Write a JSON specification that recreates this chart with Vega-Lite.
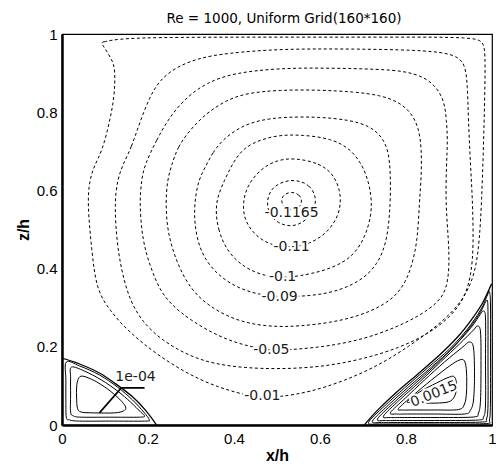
{
"$schema":"https://vega.github.io/schema/vega-lite/v6.json",
"width":430,"height":391,
"autosize":{"type":"none"},
"padding":{"left":62,"top":34,"right":4,"bottom":40},
"title":{"text":"Re = 1000, Uniform Grid(160*160)","font":"DejaVu Sans","fontSize":13.5,"fontWeight":"normal","color":"black","offset":2,"dx":7},
"config":{"view":{"stroke":"black","strokeWidth":1.2}},
"layer":[
{"data":{"values":[
{"c":"L1","x":0.534,"y":0.597},{"c":"L1","x":0.552,"y":0.590},{"c":"L1","x":0.559,"y":0.573},{"c":"L1","x":0.553,"y":0.556},{"c":"L1","x":0.534,"y":0.549},{"c":"L1","x":0.516,"y":0.556},{"c":"L1","x":0.509,"y":0.573},{"c":"L1","x":0.515,"y":0.590},
{"c":"L2","x":0.547,"y":0.627},{"c":"L2","x":0.576,"y":0.614},{"c":"L2","x":0.592,"y":0.583},{"c":"L2","x":0.587,"y":0.550},{"c":"L2","x":0.564,"y":0.519},{"c":"L2","x":0.534,"y":0.506},{"c":"L2","x":0.501,"y":0.516},{"c":"L2","x":0.480,"y":0.542},{"c":"L2","x":0.476,"y":0.575},{"c":"L2","x":0.487,"y":0.606},{"c":"L2","x":0.515,"y":0.624},
{"c":"L3","x":0.541,"y":0.683},{"c":"L3","x":0.599,"y":0.670},{"c":"L3","x":0.634,"y":0.639},{"c":"L3","x":0.650,"y":0.588},{"c":"L3","x":0.645,"y":0.537},{"c":"L3","x":0.617,"y":0.491},{"c":"L3","x":0.576,"y":0.463},{"c":"L3","x":0.534,"y":0.453},{"c":"L3","x":0.483,"y":0.460},{"c":"L3","x":0.448,"y":0.486},{"c":"L3","x":0.424,"y":0.524},{"c":"L3","x":0.420,"y":0.568},{"c":"L3","x":0.431,"y":0.614},{"c":"L3","x":0.464,"y":0.657},{"c":"L3","x":0.501,"y":0.678},
{"c":"L4","x":0.355,"y":0.568},{"c":"L4","x":0.362,"y":0.499},{"c":"L4","x":0.385,"y":0.442},{"c":"L4","x":0.424,"y":0.402},{"c":"L4","x":0.471,"y":0.381},{"c":"L4","x":0.513,"y":0.376},{"c":"L4","x":0.552,"y":0.381},{"c":"L4","x":0.610,"y":0.394},{"c":"L4","x":0.669,"y":0.422},{"c":"L4","x":0.703,"y":0.473},{"c":"L4","x":0.720,"y":0.537},{"c":"L4","x":0.720,"y":0.588},{"c":"L4","x":0.706,"y":0.652},{"c":"L4","x":0.673,"y":0.706},{"c":"L4","x":0.625,"y":0.733},{"c":"L4","x":0.560,"y":0.742},{"c":"L4","x":0.506,"y":0.742},{"c":"L4","x":0.459,"y":0.729},{"c":"L4","x":0.424,"y":0.709},{"c":"L4","x":0.401,"y":0.678},{"c":"L4","x":0.378,"y":0.627},
{"c":"L5","x":0.336,"y":0.665},{"c":"L5","x":0.350,"y":0.696},{"c":"L5","x":0.373,"y":0.729},{"c":"L5","x":0.413,"y":0.762},{"c":"L5","x":0.459,"y":0.780},{"c":"L5","x":0.517,"y":0.788},{"c":"L5","x":0.599,"y":0.788},{"c":"L5","x":0.669,"y":0.780},{"c":"L5","x":0.715,"y":0.765},{"c":"L5","x":0.745,"y":0.737},{"c":"L5","x":0.760,"y":0.698},{"c":"L5","x":0.764,"y":0.640},{"c":"L5","x":0.764,"y":0.568},{"c":"L5","x":0.757,"y":0.473},{"c":"L5","x":0.734,"y":0.409},{"c":"L5","x":0.692,"y":0.366},{"c":"L5","x":0.634,"y":0.340},{"c":"L5","x":0.576,"y":0.330},{"c":"L5","x":0.506,"y":0.327},{"c":"L5","x":0.448,"y":0.335},{"c":"L5","x":0.394,"y":0.358},{"c":"L5","x":0.350,"y":0.396},{"c":"L5","x":0.320,"y":0.448},{"c":"L5","x":0.308,"y":0.512},{"c":"L5","x":0.308,"y":0.568},{"c":"L5","x":0.317,"y":0.627},
{"c":"L6","x":0.255,"y":0.665},{"c":"L6","x":0.269,"y":0.711},{"c":"L6","x":0.297,"y":0.754},{"c":"L6","x":0.336,"y":0.798},{"c":"L6","x":0.383,"y":0.831},{"c":"L6","x":0.429,"y":0.849},{"c":"L6","x":0.506,"y":0.857},{"c":"L6","x":0.599,"y":0.857},{"c":"L6","x":0.680,"y":0.852},{"c":"L6","x":0.738,"y":0.844},{"c":"L6","x":0.785,"y":0.826},{"c":"L6","x":0.815,"y":0.795},{"c":"L6","x":0.831,"y":0.754},{"c":"L6","x":0.836,"y":0.703},{"c":"L6","x":0.836,"y":0.640},{"c":"L6","x":0.831,"y":0.568},{"c":"L6","x":0.827,"y":0.473},{"c":"L6","x":0.813,"y":0.402},{"c":"L6","x":0.790,"y":0.345},{"c":"L6","x":0.750,"y":0.307},{"c":"L6","x":0.692,"y":0.279},{"c":"L6","x":0.622,"y":0.261},{"c":"L6","x":0.552,"y":0.253},{"c":"L6","x":0.506,"y":0.251},{"c":"L6","x":0.448,"y":0.256},{"c":"L6","x":0.390,"y":0.274},{"c":"L6","x":0.338,"y":0.307},{"c":"L6","x":0.297,"y":0.350},{"c":"L6","x":0.266,"y":0.417},{"c":"L6","x":0.245,"y":0.494},{"c":"L6","x":0.241,"y":0.568},{"c":"L6","x":0.245,"y":0.627},
{"c":"L7","x":0.192,"y":0.665},{"c":"L7","x":0.220,"y":0.729},{"c":"L7","x":0.250,"y":0.788},{"c":"L7","x":0.290,"y":0.839},{"c":"L7","x":0.336,"y":0.875},{"c":"L7","x":0.397,"y":0.900},{"c":"L7","x":0.506,"y":0.913},{"c":"L7","x":0.622,"y":0.913},{"c":"L7","x":0.738,"y":0.910},{"c":"L7","x":0.797,"y":0.905},{"c":"L7","x":0.843,"y":0.890},{"c":"L7","x":0.873,"y":0.862},{"c":"L7","x":0.890,"y":0.824},{"c":"L7","x":0.894,"y":0.780},{"c":"L7","x":0.897,"y":0.729},{"c":"L7","x":0.894,"y":0.665},{"c":"L7","x":0.892,"y":0.568},{"c":"L7","x":0.899,"y":0.473},{"c":"L7","x":0.901,"y":0.402},{"c":"L7","x":0.894,"y":0.345},{"c":"L7","x":0.873,"y":0.312},{"c":"L7","x":0.831,"y":0.279},{"c":"L7","x":0.773,"y":0.248},{"c":"L7","x":0.703,"y":0.220},{"c":"L7","x":0.622,"y":0.202},{"c":"L7","x":0.552,"y":0.194},{"c":"L7","x":0.487,"y":0.190},{"c":"L7","x":0.429,"y":0.202},{"c":"L7","x":0.366,"y":0.225},{"c":"L7","x":0.297,"y":0.269},{"c":"L7","x":0.255,"y":0.307},{"c":"L7","x":0.227,"y":0.345},{"c":"L7","x":0.204,"y":0.409},{"c":"L7","x":0.187,"y":0.473},{"c":"L7","x":0.180,"y":0.568},{"c":"L7","x":0.185,"y":0.627},
{"c":"L8","x":0.141,"y":0.665},{"c":"L8","x":0.162,"y":0.711},{"c":"L8","x":0.180,"y":0.772},{"c":"L8","x":0.204,"y":0.839},{"c":"L8","x":0.227,"y":0.882},{"c":"L8","x":0.266,"y":0.916},{"c":"L8","x":0.320,"y":0.939},{"c":"L8","x":0.383,"y":0.951},{"c":"L8","x":0.506,"y":0.962},{"c":"L8","x":0.669,"y":0.962},{"c":"L8","x":0.831,"y":0.959},{"c":"L8","x":0.897,"y":0.951},{"c":"L8","x":0.924,"y":0.939},{"c":"L8","x":0.938,"y":0.918},{"c":"L8","x":0.943,"y":0.870},{"c":"L8","x":0.945,"y":0.780},{"c":"L8","x":0.950,"y":0.665},{"c":"L8","x":0.955,"y":0.568},{"c":"L8","x":0.957,"y":0.460},{"c":"L8","x":0.952,"y":0.384},{"c":"L8","x":0.936,"y":0.325},{"c":"L8","x":0.906,"y":0.279},{"c":"L8","x":0.855,"y":0.235},{"c":"L8","x":0.785,"y":0.197},{"c":"L8","x":0.692,"y":0.166},{"c":"L8","x":0.599,"y":0.148},{"c":"L8","x":0.506,"y":0.143},{"c":"L8","x":0.424,"y":0.146},{"c":"L8","x":0.355,"y":0.156},{"c":"L8","x":0.297,"y":0.176},{"c":"L8","x":0.234,"y":0.215},{"c":"L8","x":0.187,"y":0.263},{"c":"L8","x":0.157,"y":0.320},{"c":"L8","x":0.138,"y":0.396},{"c":"L8","x":0.127,"y":0.473},{"c":"L8","x":0.122,"y":0.568},{"c":"L8","x":0.129,"y":0.627},
{"c":"L9","x":0.091,"y":0.978},{"c":"L9","x":0.091,"y":0.978},{"c":"L9","x":0.134,"y":0.990},{"c":"L9","x":0.320,"y":0.992},{"c":"L9","x":0.552,"y":0.992},{"c":"L9","x":0.785,"y":0.992},{"c":"L9","x":0.959,"y":0.992},{"c":"L9","x":0.978,"y":0.980},{"c":"L9","x":0.985,"y":0.959},{"c":"L9","x":0.983,"y":0.831},{"c":"L9","x":0.980,"y":0.703},{"c":"L9","x":0.976,"y":0.575},{"c":"L9","x":0.971,"y":0.473},{"c":"L9","x":0.962,"y":0.396},{"c":"L9","x":0.943,"y":0.340},{"c":"L9","x":0.913,"y":0.294},{"c":"L9","x":0.866,"y":0.248},{"c":"L9","x":0.808,"y":0.202},{"c":"L9","x":0.738,"y":0.153},{"c":"L9","x":0.657,"y":0.113},{"c":"L9","x":0.576,"y":0.084},{"c":"L9","x":0.506,"y":0.072},{"c":"L9","x":0.466,"y":0.070},{"c":"L9","x":0.413,"y":0.079},{"c":"L9","x":0.320,"y":0.113},{"c":"L9","x":0.227,"y":0.174},{"c":"L9","x":0.150,"y":0.243},{"c":"L9","x":0.111,"y":0.294},{"c":"L9","x":0.080,"y":0.345},{"c":"L9","x":0.069,"y":0.448},{"c":"L9","x":0.059,"y":0.568},{"c":"L9","x":0.064,"y":0.627},{"c":"L9","x":0.076,"y":0.665},{"c":"L9","x":0.094,"y":0.703},{"c":"L9","x":0.110,"y":0.772},{"c":"L9","x":0.122,"y":0.839},{"c":"L9","x":0.124,"y":0.908},{"c":"L9","x":0.117,"y":0.934}
]},
"mark":{"type":"line","interpolate":"basis-closed","strokeWidth":1,"color":"black","strokeDash":[3,2.5],"clip":true},
"encoding":{
"x":{"field":"x","type":"quantitative","scale":{"domain":[0,1],"nice":false,"zero":false},
"axis":{"values":[0,0.2,0.4,0.6,0.8,1],"format":"~g","title":"x/h","grid":false,"ticks":false,"labelPadding":6,"labelFlush":false,"labelFont":"Liberation Sans","labelFontSize":15,"labelColor":"black","titleFont":"Liberation Sans","titleFontSize":16,"titleFontWeight":"bold","titleColor":"black","titlePadding":1,"domainColor":"black","domainWidth":2.5}},
"y":{"field":"y","type":"quantitative","scale":{"domain":[0,1],"nice":false,"zero":false},
"axis":{"values":[0,0.2,0.4,0.6,0.8,1],"format":"~g","title":"z/h","grid":false,"ticks":false,"labelPadding":5,"labelFlush":false,"labelFont":"Liberation Sans","labelFontSize":15,"labelColor":"black","titleFont":"Liberation Sans","titleFontSize":16,"titleFontWeight":"bold","titleColor":"black","titlePadding":5,"domainColor":"black","domainWidth":2.5}},
"detail":{"field":"c"},
"order":{"value":null}
}},
{"data":{"values":[
{"c":"A","x":0.010,"y":0.161},{"c":"A","x":0.041,"y":0.151},{"c":"A","x":0.087,"y":0.128},{"c":"A","x":0.129,"y":0.097},{"c":"A","x":0.164,"y":0.064},{"c":"A","x":0.190,"y":0.033},{"c":"A","x":0.203,"y":0.013},{"c":"A","x":0.192,"y":0.010},{"c":"A","x":0.110,"y":0.010},{"c":"A","x":0.041,"y":0.010},{"c":"A","x":0.017,"y":0.013},{"c":"A","x":0.010,"y":0.020},{"c":"A","x":0.009,"y":0.064},{"c":"A","x":0.009,"y":0.115},
{"c":"B","x":0.022,"y":0.148},{"c":"B","x":0.052,"y":0.138},{"c":"B","x":0.092,"y":0.115},{"c":"B","x":0.129,"y":0.087},{"c":"B","x":0.159,"y":0.059},{"c":"B","x":0.183,"y":0.033},{"c":"B","x":0.192,"y":0.023},{"c":"B","x":0.180,"y":0.020},{"c":"B","x":0.110,"y":0.020},{"c":"B","x":0.045,"y":0.020},{"c":"B","x":0.027,"y":0.023},{"c":"B","x":0.020,"y":0.033},{"c":"B","x":0.020,"y":0.077},{"c":"B","x":0.020,"y":0.120},
{"c":"D","x":0.048,"y":0.125},{"c":"D","x":0.076,"y":0.113},{"c":"D","x":0.106,"y":0.092},{"c":"D","x":0.134,"y":0.066},{"c":"D","x":0.148,"y":0.046},{"c":"D","x":0.143,"y":0.036},{"c":"D","x":0.122,"y":0.031},{"c":"D","x":0.076,"y":0.031},{"c":"D","x":0.045,"y":0.033},{"c":"D","x":0.036,"y":0.043},{"c":"D","x":0.034,"y":0.069},{"c":"D","x":0.034,"y":0.097},{"c":"D","x":0.038,"y":0.118},
{"c":"R2","x":0.7128,"y":0.0064},{"c":"R2","x":0.750,"y":0.0486},{"c":"R2","x":0.7965,"y":0.0946},{"c":"R2","x":0.850,"y":0.1458},{"c":"R2","x":0.9012,"y":0.1944},{"c":"R2","x":0.943,"y":0.2455},{"c":"R2","x":0.9733,"y":0.2941},{"c":"R2","x":0.9895,"y":0.3325},{"c":"R2","x":0.9942,"y":0.3402},{"c":"R2","x":0.9965,"y":0.3069},{"c":"R2","x":0.9965,"y":0.1918},{"c":"R2","x":0.9965,"y":0.0639},{"c":"R2","x":0.9942,"y":0.0128},{"c":"R2","x":0.9872,"y":0.0038},{"c":"R2","x":0.9012,"y":0.0026},{"c":"R2","x":0.8081,"y":0.0026},{"c":"R2","x":0.7384,"y":0.0026},
{"c":"R3","x":0.722,"y":0.0102},{"c":"R3","x":0.7593,"y":0.0512},{"c":"R3","x":0.8058,"y":0.0972},{"c":"R3","x":0.8593,"y":0.1483},{"c":"R3","x":0.9081,"y":0.1969},{"c":"R3","x":0.9477,"y":0.2481},{"c":"R3","x":0.9733,"y":0.2890},{"c":"R3","x":0.9849,"y":0.3146},{"c":"R3","x":0.9895,"y":0.3171},{"c":"R3","x":0.9907,"y":0.2813},{"c":"R3","x":0.9907,"y":0.1662},{"c":"R3","x":0.9907,"y":0.0512},{"c":"R3","x":0.9872,"y":0.0153},{"c":"R3","x":0.9779,"y":0.0077},{"c":"R3","x":0.8895,"y":0.0064},{"c":"R3","x":0.7965,"y":0.0064},{"c":"R3","x":0.7430,"y":0.0064},
{"c":"R4","x":0.7337,"y":0.0153},{"c":"R4","x":0.7709,"y":0.0563},{"c":"R4","x":0.8174,"y":0.1023},{"c":"R4","x":0.8686,"y":0.1535},{"c":"R4","x":0.9151,"y":0.2046},{"c":"R4","x":0.9523,"y":0.2506},{"c":"R4","x":0.9733,"y":0.2839},{"c":"R4","x":0.9802,"y":0.2916},{"c":"R4","x":0.9849,"y":0.2737},{"c":"R4","x":0.9849,"y":0.1662},{"c":"R4","x":0.9849,"y":0.0512},{"c":"R4","x":0.9802,"y":0.0205},{"c":"R4","x":0.9686,"y":0.0128},{"c":"R4","x":0.8779,"y":0.0115},{"c":"R4","x":0.7849,"y":0.0115},{"c":"R4","x":0.7523,"y":0.0115},
{"c":"R5","x":0.7477,"y":0.0230},{"c":"R5","x":0.7849,"y":0.0639},{"c":"R5","x":0.8314,"y":0.1100},{"c":"R5","x":0.8802,"y":0.1611},{"c":"R5","x":0.9244,"y":0.2072},{"c":"R5","x":0.9570,"y":0.2430},{"c":"R5","x":0.9663,"y":0.2532},{"c":"R5","x":0.9733,"y":0.2379},{"c":"R5","x":0.9744,"y":0.1535},{"c":"R5","x":0.9733,"y":0.0639},{"c":"R5","x":0.9686,"y":0.0307},{"c":"R5","x":0.9570,"y":0.0205},{"c":"R5","x":0.8779,"y":0.0192},{"c":"R5","x":0.7965,"y":0.0192},{"c":"R5","x":0.7640,"y":0.0192},
{"c":"R6","x":0.7640,"y":0.0320},{"c":"R6","x":0.7988,"y":0.0691},{"c":"R6","x":0.8430,"y":0.1151},{"c":"R6","x":0.8895,"y":0.1611},{"c":"R6","x":0.9291,"y":0.1969},{"c":"R6","x":0.9477,"y":0.2123},{"c":"R6","x":0.9570,"y":0.1969},{"c":"R6","x":0.9593,"y":0.1279},{"c":"R6","x":0.9570,"y":0.0639},{"c":"R6","x":0.9500,"y":0.0384},{"c":"R6","x":0.9360,"y":0.0281},{"c":"R6","x":0.8663,"y":0.0281},{"c":"R6","x":0.8035,"y":0.0281},{"c":"R6","x":0.7779,"y":0.0281},
{"c":"R7","x":0.7826,"y":0.0422},{"c":"R7","x":0.8174,"y":0.0767},{"c":"R7","x":0.8593,"y":0.1151},{"c":"R7","x":0.9012,"y":0.1509},{"c":"R7","x":0.9244,"y":0.1662},{"c":"R7","x":0.9360,"y":0.1637},{"c":"R7","x":0.9407,"y":0.1355},{"c":"R7","x":0.9407,"y":0.0844},{"c":"R7","x":0.9360,"y":0.0537},{"c":"R7","x":0.9221,"y":0.0396},{"c":"R7","x":0.8663,"y":0.0384},{"c":"R7","x":0.8128,"y":0.0384},{"c":"R7","x":0.7919,"y":0.0384},
{"c":"R8","x":0.8035,"y":0.0601},{"c":"R8","x":0.8314,"y":0.0844},{"c":"R8","x":0.8709,"y":0.1074},{"c":"R8","x":0.9012,"y":0.1228},{"c":"R8","x":0.9128,"y":0.1228},{"c":"R8","x":0.9174,"y":0.1049},{"c":"R8","x":0.9151,"y":0.0793},{"c":"R8","x":0.9035,"y":0.0614},{"c":"R8","x":0.8779,"y":0.0563},{"c":"R8","x":0.8314,"y":0.0563},{"c":"R8","x":0.8128,"y":0.0575}
]},
"mark":{"type":"line","interpolate":"cardinal-closed","strokeWidth":1,"color":"black","clip":true},
"encoding":{"x":{"field":"x","type":"quantitative"},"y":{"field":"y","type":"quantitative"},"detail":{"field":"c"},"order":{"value":null}}},
{"data":{"values":[
{"c":"SL","x":0,"y":0.171},{"c":"SL","x":0.041,"y":0.156},{"c":"SL","x":0.087,"y":0.133},{"c":"SL","x":0.129,"y":0.102},{"c":"SL","x":0.164,"y":0.072},{"c":"SL","x":0.194,"y":0.038},{"c":"SL","x":0.220,"y":0},
{"c":"SR","x":0.703,"y":0},{"c":"SR","x":0.734,"y":0.038},{"c":"SR","x":0.776,"y":0.082},{"c":"SR","x":0.827,"y":0.130},{"c":"SR","x":0.878,"y":0.179},{"c":"SR","x":0.920,"y":0.225},{"c":"SR","x":0.952,"y":0.269},{"c":"SR","x":0.978,"y":0.312},{"c":"SR","x":0.999,"y":0.361}
]},
"mark":{"type":"line","interpolate":"cardinal","strokeWidth":1.3,"color":"black","clip":true},
"encoding":{"x":{"field":"x","type":"quantitative"},"y":{"field":"y","type":"quantitative"},"detail":{"field":"c"},"order":{"value":null}}},
{"data":{"values":[{"x":0.087,"y":0.031},{"x":0.138,"y":0.095},{"x":0.192,"y":0.095}]},
"mark":{"type":"line","strokeWidth":1.6,"color":"black"},
"encoding":{"x":{"field":"x","type":"quantitative"},"y":{"field":"y","type":"quantitative"},"order":{"value":null}}},
{"data":{"values":[
{"t":"-0.1165","x":0.534,"y":0.542,"a":0},
{"t":"-0.11","x":0.534,"y":0.455,"a":0},
{"t":"-0.1","x":0.513,"y":0.379,"a":0},
{"t":"-0.09","x":0.506,"y":0.327,"a":0},
{"t":"-0.05","x":0.487,"y":0.192,"a":0},
{"t":"-0.01","x":0.466,"y":0.074,"a":0},
{"t":"1e-04","x":0.171,"y":0.123,"a":0},
{"t":"0.0015","x":0.865,"y":0.079,"a":-22}
]},
"layer":[
{"mark":{"type":"text","font":"DejaVu Sans","fontSize":14,"fill":"white","stroke":"white","strokeWidth":4,"align":"center","baseline":"middle"},
"encoding":{"x":{"field":"x","type":"quantitative"},"y":{"field":"y","type":"quantitative"},"text":{"field":"t"},"angle":{"field":"a","type":"quantitative","scale":null}}},
{"mark":{"type":"text","font":"DejaVu Sans","fontSize":14,"color":"#1a1a1a","align":"center","baseline":"middle"},
"encoding":{"x":{"field":"x","type":"quantitative"},"y":{"field":"y","type":"quantitative"},"text":{"field":"t"},"angle":{"field":"a","type":"quantitative","scale":null}}}
]}
]
}
